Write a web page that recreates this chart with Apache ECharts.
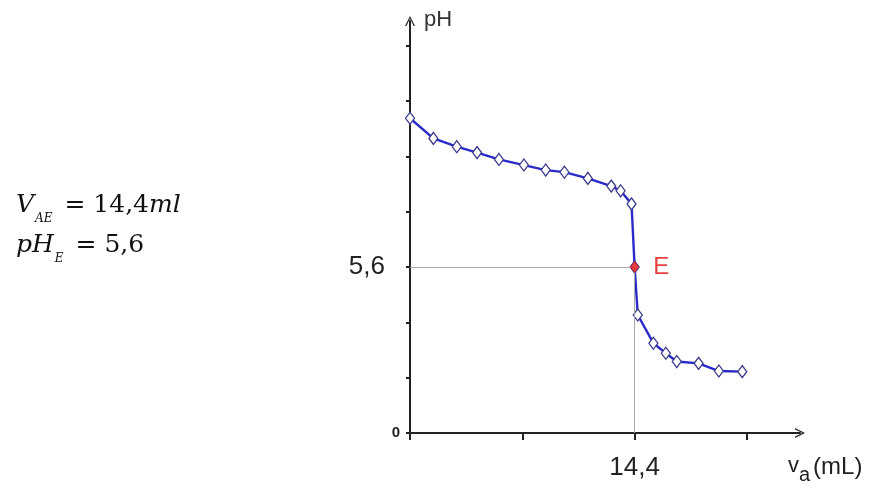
<!DOCTYPE html>
<html>
<head>
<meta charset="utf-8">
<script src="https://cdn.jsdelivr.net/npm/echarts@6/dist/echarts.min.js"></script>
<style>
  html, body { margin: 0; padding: 0; background: #fff; }
  #chart { width: 873px; height: 495px; }
</style>
</head>
<body>
<div id="chart"></div>
<script>
// titration curve: added volume (mL) vs pH
const volumes = [0, 1.5, 3.0, 4.3, 5.7, 7.3, 8.7, 9.9, 11.4, 12.9, 13.5, 14.2, 14.4, 14.6, 15.6, 16.4, 17.1, 18.5, 19.8, 21.3]
const phValues = [10.62, 9.94, 9.66, 9.46, 9.23, 9.04, 8.87, 8.80, 8.59, 8.33, 8.17, 7.73, 5.6, 3.98, 3.03, 2.69, 2.41, 2.35, 2.09, 2.07]

// equivalence point E
const eqV = 14.4
const eqPH = 5.6

const xTicks = [0, 7.2, 14.4, 21.6]
const xLabels = [14.4]
const yTicks = [0, 1.87, 3.73, 5.6, 7.47, 9.33, 11.2, 13.07]
const yLabels = [0, 5.6]

const arrow = 'path://M5,0 L10,10 L8.6,10 L5,2.6 L1.4,10 L0,10 Z'
const fmt = v => String(v).replace('.', ',')

const chart = echarts.init(document.getElementById('chart'))

const curve = volumes.map((v, i) => [v, phValues[i]])

const serif = { fontFamily: 'DejaVu Serif', fontWeight: 'normal', color: '#111', verticalAlign: 'bottom', lineHeight: 40 }

const option = {
  backgroundColor: '#fff',
  animation: false,
  title: {
    left: 11,
    top: 180,
    text: '{v|V}{s|AE}{t| = 14,4}{m|ml}\n{v|pH}{s|E}{t| = 5,6}',
    textStyle: {
      fontWeight: 'normal',
      rich: {
        v: { ...serif, fontStyle: 'italic', fontSize: 25, padding: [0, 0, 7, 0] },
        s: { ...serif, fontStyle: 'italic', fontSize: 12, padding: [0, 4, 0, 1] },
        t: { ...serif, fontSize: 25, padding: [0, 0, 7, 0] },
        m: { ...serif, fontStyle: 'italic', fontSize: 25, padding: [0, 0, 7, 0] }
      }
    }
  },
  grid: {
    left: 410,
    right: 73,
    top: 21,
    bottom: 62
  },
  xAxis: {
    type: 'value',
    min: 0,
    max: 25,
    name: '{v|v}{a|a}{u|(mL)}',
    nameLocation: 'end',
    nameGap: -12,
    nameTextStyle: {
      align: 'left',
      verticalAlign: 'top',
      padding: [22, 0, 0, 0],
      rich: {
        v: { fontFamily: 'Liberation Sans', fontSize: 22, color: '#222', verticalAlign: 'bottom', padding: [0, 0, 8, 0] },
        a: { fontFamily: 'Liberation Sans', fontSize: 20, color: '#222', verticalAlign: 'bottom', padding: [0, 3, 0, 0] },
        u: { fontFamily: 'Liberation Sans', fontSize: 24, color: '#222', verticalAlign: 'bottom', padding: [0, 0, 6, 0] }
      }
    },
    axisLine: {
      show: true,
      symbol: ['none', arrow],
      symbolSize: [10, 12],
      lineStyle: { color: '#222', width: 2 }
    },
    axisTick: {
      show: true,
      customValues: xTicks,
      length: 7,
      lineStyle: { color: '#222', width: 2 }
    },
    axisLabel: {
      show: true,
      customValues: xLabels,
      formatter: fmt,
      margin: 22,
      fontFamily: 'Liberation Sans',
      fontSize: 26,
      color: '#222'
    },
    splitLine: { show: false }
  },
  yAxis: {
    type: 'value',
    min: 0,
    max: 13.9,
    name: 'pH',
    nameLocation: 'end',
    nameGap: 12,
    nameTextStyle: {
      align: 'left',
      verticalAlign: 'top',
      padding: [0, 0, 0, 14],
      fontFamily: 'Liberation Sans',
      fontSize: 22,
      color: '#333'
    },
    axisLine: {
      show: true,
      symbol: ['none', arrow],
      symbolSize: [10, 12],
      lineStyle: { color: '#222', width: 2 }
    },
    axisTick: {
      show: true,
      customValues: yTicks,
      length: 4,
      lineStyle: { color: '#222', width: 2 }
    },
    axisLabel: {
      show: true,
      customValues: yLabels,
      formatter: v => v === 0 ? '{z|0}' : '{b|' + fmt(v) + '}',
      margin: 10,
      rich: {
        z: { fontFamily: 'Liberation Sans', fontWeight: 'bold', fontSize: 15, color: '#222' },
        b: { fontFamily: 'Liberation Sans', fontSize: 26, color: '#222', padding: [0, 15, 0, 0] }
      }
    },
    splitLine: { show: false }
  },
  series: [
    {
      name: 'pH',
      type: 'line',
      data: curve,
      symbol: 'diamond',
      symbolSize: [9, 12],
      showAllSymbol: true,
      lineStyle: { color: '#2a2ac8', width: 2.4 },
      itemStyle: { color: '#fff', borderColor: '#3c3c8c', borderWidth: 1.3 },
      markLine: {
        silent: true,
        symbol: ['none', 'none'],
        label: { show: false },
        lineStyle: { color: '#aaa', width: 1, type: 'solid' },
        data: [
          [{ coord: [0, eqPH] }, { coord: [eqV, eqPH] }],
          [{ coord: [eqV, eqPH] }, { coord: [eqV, 0] }]
        ]
      },
      z: 3
    },
    {
      name: 'E',
      type: 'scatter',
      data: [[eqV, eqPH]],
      symbol: 'diamond',
      symbolSize: [9, 12],
      itemStyle: { color: '#e01010' },
      label: {
        show: true,
        position: 'right',
        distance: 14,
        formatter: 'E',
        fontFamily: 'Liberation Sans',
        fontSize: 24,
        color: '#e01010'
      },
      z: 5
    }
  ]
}

chart.setOption(option)

window.addEventListener('resize', () => chart.resize())
</script>
</body>
</html>
